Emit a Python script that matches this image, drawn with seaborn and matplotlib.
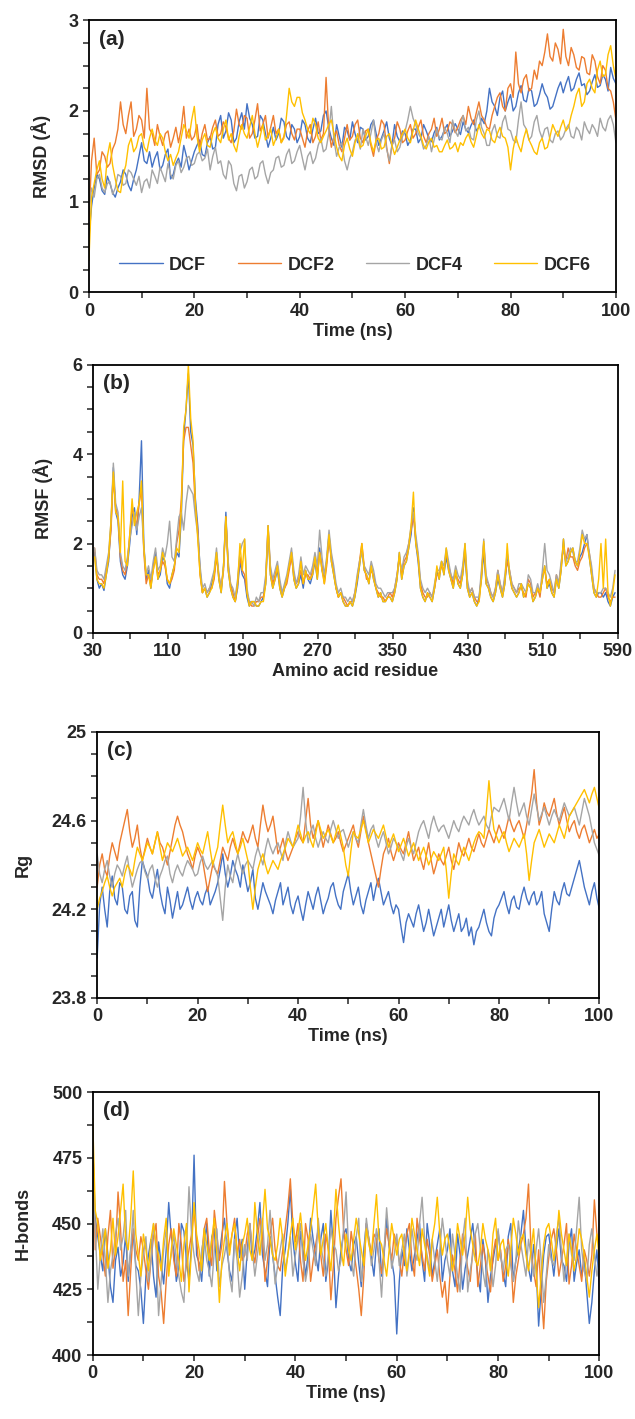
import numpy as np
import pandas as pd
import matplotlib
matplotlib.use('Agg')
import matplotlib.pyplot as plt
from matplotlib.ticker import FuncFormatter
import seaborn as sns

sns.set_style('white')
plt.rcParams['font.family'] = ['Liberation Sans', 'DejaVu Sans']
plt.rcParams['font.weight'] = 'bold'

systems = ['DCF', 'DCF2', 'DCF4', 'DCF6']
colors = ['#4472C4', '#ED7D31', '#A5A5A5', '#FFC000']

# time axis (ns, every 0.5 ns) and residue numbers (every 2.5 residues)
time_ns = np.arange(0, 100.5, 0.5)
residues = np.arange(32, 588, 2.5)

# --- (a) RMSD (Å) ---
rmsd_dcf = [0.60, 0.95, 1.15, 1.30, 1.25, 1.12, 1.08, 1.28, 1.20, 1.10, 1.05, 1.15, 1.22, 1.35, 1.30, 1.18, 1.12, 1.25, 1.35, 1.50,
            1.65, 1.45, 1.42, 1.55, 1.38, 1.48, 1.55, 1.35, 1.40, 1.52, 1.58, 1.25, 1.30, 1.42, 1.48, 1.38, 1.62, 1.50, 1.35, 1.45,
            1.55, 1.62, 1.68, 1.52, 1.50, 1.65, 1.72, 1.58, 1.60, 1.85, 1.95, 1.70, 1.78, 1.98, 1.90, 1.65, 1.70, 1.88, 1.98, 1.80,
            2.08, 1.92, 1.85, 1.70, 1.72, 1.95, 1.90, 1.75, 1.60, 1.70, 1.82, 1.68, 1.75, 1.92, 1.88, 1.72, 1.68, 1.85, 1.80, 1.65,
            1.72, 1.90, 1.85, 1.70, 1.65, 1.80, 1.92, 1.75, 1.78, 1.95, 2.00, 1.82, 1.70, 1.62, 1.85, 1.72, 1.60, 1.82, 1.78, 1.68,
            1.88, 1.75, 1.65, 1.82, 1.80, 1.68, 1.72, 1.85, 1.90, 1.75, 1.62, 1.70, 1.78, 1.88, 1.70, 1.62, 1.85, 1.72, 1.66, 1.78,
            1.75, 1.62, 1.68, 1.80, 1.80, 1.65, 1.70, 1.85, 1.78, 1.70, 1.66, 1.76, 1.82, 1.68, 1.72, 1.80, 1.85, 1.72, 1.78, 1.86,
            1.80, 1.74, 1.88, 1.80, 1.76, 1.84, 1.90, 1.78, 1.82, 1.92, 1.86, 2.00, 2.25, 2.10, 2.05, 1.95, 2.15, 2.22, 2.00, 2.10,
            2.18, 2.00, 2.05, 2.20, 2.28, 2.12, 2.10, 2.25, 2.22, 2.05, 2.08, 2.18, 2.30, 2.20, 2.15, 2.02, 2.05, 2.15, 2.25, 2.32,
            2.20, 2.30, 2.38, 2.22, 2.25, 2.35, 2.42, 2.28, 2.30, 2.18, 2.22, 2.32, 2.40, 2.26, 2.28, 2.40, 2.35, 2.22, 2.48, 2.36,
            2.30]
rmsd_dcf2 = [0.80, 1.45, 1.70, 1.30, 1.35, 1.55, 1.50, 1.38, 1.42, 1.58, 1.65, 1.80, 2.10, 1.85, 1.75, 1.95, 2.10, 1.72, 1.80, 1.95,
             1.90, 1.70, 2.25, 1.80, 1.75, 1.62, 1.85, 1.72, 1.62, 1.75, 1.78, 1.60, 1.70, 1.82, 1.65, 1.80, 2.05, 1.70, 1.80, 1.68,
             1.72, 1.85, 1.60, 1.75, 1.85, 1.68, 1.70, 1.82, 1.90, 1.72, 1.75, 1.88, 1.82, 1.70, 1.65, 1.78, 2.02, 1.85, 1.80, 1.95,
             1.92, 1.70, 1.75, 1.90, 2.08, 1.78, 1.85, 1.95, 1.70, 1.82, 1.95, 1.75, 1.80, 1.65, 1.72, 1.85, 1.88, 1.75, 1.68, 1.80,
             1.80, 1.70, 1.60, 1.78, 1.85, 1.65, 1.72, 1.88, 1.68, 1.75, 2.37, 1.80, 1.60, 1.72, 1.78, 1.62, 1.55, 1.70, 1.85, 1.68,
             1.72, 1.85, 1.90, 1.70, 1.65, 1.78, 1.80, 1.62, 1.50, 1.68, 1.75, 1.90, 1.85, 1.60, 1.42, 1.62, 1.70, 1.88, 1.80, 1.65,
             1.68, 1.78, 1.85, 1.70, 1.75, 1.82, 1.90, 1.72, 1.65, 1.75, 1.80, 1.92, 1.72, 1.80, 1.92, 1.75, 1.78, 1.88, 1.85, 1.76,
             1.82, 1.90, 1.95, 1.85, 2.05, 1.92, 1.85, 1.98, 2.10, 1.95, 1.90, 1.82, 1.80, 1.95, 2.05, 2.15, 2.20, 2.05, 2.00, 2.25,
             2.30, 2.15, 2.65, 2.30, 2.20, 2.35, 2.40, 2.22, 2.25, 2.45, 2.35, 2.55, 2.50, 2.65, 2.85, 2.60, 2.55, 2.75, 2.68, 2.52,
             2.90, 2.60, 2.50, 2.70, 2.62, 2.48, 2.45, 2.60, 2.58, 2.42, 2.40, 2.62, 2.55, 2.38, 2.30, 2.50, 2.45, 2.25, 2.22, 2.10,
             1.90]
rmsd_dcf4 = [0.90, 1.15, 1.05, 1.25, 1.30, 1.15, 1.10, 1.20, 1.22, 1.08, 1.15, 1.30, 1.28, 1.18, 1.20, 1.35, 1.32, 1.25, 1.18, 1.28,
             1.10, 1.22, 1.25, 1.15, 1.35, 1.28, 1.20, 1.38, 1.30, 1.22, 1.42, 1.30, 1.25, 1.40, 1.45, 1.32, 1.38, 1.48, 1.50, 1.40,
             1.42, 1.52, 1.55, 1.45, 1.48, 1.58, 1.35, 1.50, 1.60, 1.42, 1.45, 1.30, 1.25, 1.45, 1.40, 1.20, 1.12, 1.28, 1.30, 1.15,
             1.22, 1.35, 1.38, 1.25, 1.28, 1.42, 1.45, 1.30, 1.20, 1.32, 1.35, 1.48, 1.50, 1.38, 1.40, 1.52, 1.58, 1.42, 1.45, 1.55,
             1.62, 1.48, 1.35, 1.50, 1.55, 1.42, 1.48, 1.62, 1.70, 1.55, 1.58, 1.75, 2.05, 1.68, 1.50, 1.60, 1.65, 1.45, 1.35, 1.48,
             1.55, 1.68, 1.70, 1.58, 1.80, 1.72, 1.62, 1.75, 1.90, 1.65, 1.55, 1.68, 1.75, 1.58, 1.45, 1.62, 1.68, 1.55, 1.60, 1.72,
             1.78, 1.90, 2.05, 1.92, 1.85, 1.75, 1.70, 1.58, 1.62, 1.72, 1.55, 1.68, 1.80, 1.70, 1.68, 1.82, 1.75, 1.65, 1.90, 1.78,
             1.72, 1.85, 1.95, 1.78, 1.82, 1.70, 1.68, 1.90, 2.00, 1.82, 1.75, 1.62, 1.62, 1.78, 1.85, 1.72, 1.70, 1.88, 1.95, 1.80,
             1.78, 1.68, 1.65, 1.90, 2.10, 1.85, 1.80, 1.68, 1.72, 1.88, 1.95, 1.78, 1.70, 1.80, 1.82, 1.68, 1.65, 1.75, 1.78, 1.68,
             1.72, 1.80, 1.85, 1.72, 1.70, 1.82, 1.78, 1.68, 1.88, 1.80, 1.75, 1.85, 1.80, 1.72, 1.92, 1.82, 1.78, 1.90, 1.95, 1.85,
             1.65]
rmsd_dcf6 = [0.35, 1.05, 1.20, 1.35, 1.45, 1.25, 1.15, 1.50, 1.65, 1.40, 1.25, 1.12, 1.10, 1.30, 1.40, 1.62, 1.70, 1.55, 1.60, 1.72,
             1.75, 1.60, 1.55, 1.70, 1.80, 1.68, 1.62, 1.75, 1.70, 1.55, 1.45, 1.52, 1.40, 1.48, 1.55, 1.70, 1.85, 1.78, 1.70, 1.90,
             2.05, 1.72, 1.55, 1.68, 1.75, 1.62, 1.60, 1.75, 1.82, 1.70, 1.65, 1.80, 1.90, 1.68, 1.75, 1.62, 1.55, 1.72, 1.85, 1.75,
             1.70, 1.82, 1.95, 1.75, 1.60, 1.72, 1.85, 1.68, 1.72, 1.80, 1.62, 1.70, 1.80, 1.65, 1.70, 1.95, 2.25, 2.10, 2.05, 2.15,
             2.15, 1.98, 1.90, 1.80, 1.75, 1.92, 1.85, 1.70, 1.65, 1.72, 1.78, 1.85, 1.90, 1.75, 1.60, 1.50, 1.45, 1.62, 1.70, 1.58,
             1.50, 1.65, 1.75, 1.60, 1.62, 1.72, 1.80, 1.65, 1.55, 1.68, 1.70, 1.58, 1.60, 1.72, 1.75, 1.62, 1.52, 1.60, 1.68, 1.75,
             1.80, 1.70, 1.65, 1.78, 1.90, 1.80, 1.72, 1.62, 1.58, 1.66, 1.70, 1.60, 1.62, 1.55, 1.55, 1.62, 1.68, 1.58, 1.60, 1.65,
             1.55, 1.65, 1.62, 1.70, 1.75, 1.66, 1.60, 1.72, 1.85, 1.75, 1.70, 1.80, 1.78, 1.68, 1.65, 1.75, 1.82, 1.72, 1.70, 1.60,
             1.35, 1.58, 1.72, 1.62, 1.55, 1.70, 1.80, 1.68, 1.62, 1.55, 1.52, 1.65, 1.70, 1.58, 1.60, 1.72, 1.85, 1.78, 1.72, 1.82,
             1.90, 1.78, 1.82, 1.95, 2.05, 2.18, 2.25, 2.05, 2.10, 2.30, 2.35, 2.25, 2.20, 2.45, 2.55, 2.38, 2.40, 2.62, 2.72, 2.50,
             2.35]

# --- (b) RMSF (Å) ---
rmsf_dcf = [1.8, 1.2, 1.0, 1.1, 0.95, 1.3, 1.6, 2.4, 3.7, 2.7, 2.5, 1.6, 1.3, 1.2, 1.5, 2.0, 2.6, 2.8, 2.2, 3.0,
            4.3, 2.0, 1.2, 1.4, 1.0, 1.5, 1.8, 1.2, 1.3, 1.7, 1.6, 1.1, 1.0, 1.3, 1.5, 1.8, 1.7, 2.6, 4.4, 5.0,
            5.8, 4.5, 4.2, 3.0, 2.4, 1.4, 0.9, 1.0, 0.8, 0.9, 1.1, 1.3, 1.8, 1.2, 0.9, 1.5, 2.7, 1.4, 1.0, 0.8,
            0.7, 1.0, 1.6, 1.3, 1.2, 0.8, 0.6, 0.7, 0.7, 0.6, 0.6, 0.7, 0.8, 1.1, 2.3, 1.3, 1.0, 1.2, 1.4, 1.0,
            0.8, 1.0, 1.2, 1.5, 1.8, 1.2, 1.0, 1.1, 1.3, 1.0, 1.4, 1.2, 1.1, 1.3, 1.6, 1.2, 1.9, 1.4, 1.2, 1.6,
            2.2, 1.6, 1.3, 1.0, 0.8, 0.9, 0.7, 0.6, 0.6, 0.7, 0.6, 0.8, 1.1, 1.5, 1.9, 1.4, 1.3, 1.1, 1.5, 1.2,
            1.0, 0.8, 0.9, 0.7, 0.7, 0.8, 0.8, 0.7, 0.9, 1.2, 1.8, 1.2, 1.5, 1.6, 1.9, 2.2, 2.8, 2.0, 1.6, 1.0,
            0.8, 0.7, 0.9, 0.8, 0.7, 1.0, 1.4, 1.2, 1.6, 1.3, 1.7, 1.4, 1.2, 1.0, 1.4, 1.1, 1.0, 1.3, 1.8, 1.0,
            0.8, 0.9, 0.7, 0.6, 0.8, 1.2, 1.8, 1.1, 1.0, 0.8, 0.7, 0.9, 1.2, 1.0, 0.8, 1.1, 1.7, 1.3, 1.0, 0.9,
            0.8, 0.9, 1.1, 0.8, 0.9, 1.1, 1.0, 0.7, 0.8, 1.0, 0.9, 1.2, 1.5, 1.0, 1.1, 0.9, 0.8, 1.2, 1.0, 1.4,
            2.1, 1.5, 1.6, 1.8, 1.9, 1.6, 1.5, 1.7, 1.8, 2.0, 2.2, 1.7, 1.3, 0.9, 0.8, 0.9, 0.9, 0.8, 0.9, 0.7,
            0.6, 0.8, 0.9]
rmsf_dcf2 = [1.9, 1.3, 1.2, 1.2, 1.1, 1.4, 1.7, 2.3, 3.5, 2.8, 2.6, 1.7, 1.4, 1.3, 1.6, 2.2, 2.8, 2.6, 2.4, 2.9,
             3.2, 1.8, 1.1, 1.3, 1.1, 1.4, 1.7, 1.3, 1.4, 1.6, 1.5, 1.2, 1.1, 1.2, 1.4, 2.0, 2.3, 3.0, 4.3, 4.6,
             4.6, 4.2, 3.8, 2.8, 2.3, 1.3, 0.9, 1.0, 0.9, 1.0, 1.0, 1.2, 1.7, 1.3, 1.0, 1.4, 2.6, 1.5, 1.1, 0.9,
             0.7, 1.1, 1.7, 1.4, 1.3, 0.9, 0.7, 0.6, 0.6, 0.7, 0.7, 0.8, 0.8, 1.2, 2.4, 1.4, 1.1, 1.3, 1.5, 1.1,
             0.9, 1.0, 1.1, 1.4, 1.7, 1.3, 1.1, 1.2, 1.4, 1.1, 1.3, 1.3, 1.2, 1.4, 1.7, 1.3, 1.8, 1.5, 1.1, 1.5,
             2.1, 1.7, 1.4, 1.0, 0.8, 0.9, 0.8, 0.7, 0.6, 0.7, 0.7, 0.9, 1.2, 1.6, 2.0, 1.5, 1.2, 1.2, 1.4, 1.3,
             1.0, 0.9, 0.8, 0.8, 0.7, 0.8, 0.9, 0.8, 1.0, 1.3, 1.7, 1.3, 1.6, 1.7, 2.0, 2.3, 2.6, 2.1, 1.7, 1.1,
             0.9, 0.8, 0.8, 0.9, 0.8, 1.0, 1.3, 1.3, 1.5, 1.4, 1.8, 1.5, 1.3, 1.1, 1.3, 1.2, 1.1, 1.4, 1.9, 1.1,
             0.9, 1.0, 0.8, 0.7, 0.7, 1.3, 2.0, 1.2, 1.1, 0.9, 0.8, 1.0, 1.4, 1.1, 0.9, 1.2, 1.6, 1.4, 1.1, 1.0,
             0.9, 1.0, 1.0, 0.9, 0.8, 1.2, 1.1, 0.8, 0.9, 1.0, 0.8, 1.3, 1.4, 1.1, 1.2, 1.0, 0.9, 1.3, 1.1, 1.5,
             1.9, 1.6, 1.9, 1.7, 1.7, 1.5, 1.4, 1.6, 1.7, 1.9, 2.0, 1.8, 1.4, 1.0, 0.9, 0.8, 0.8, 0.9, 1.0, 0.8,
             0.7, 0.8, 0.8]
rmsf_dcf4 = [1.9, 1.4, 1.3, 1.3, 1.2, 1.5, 1.8, 2.5, 3.8, 2.9, 2.7, 1.8, 1.5, 1.4, 1.7, 2.1, 2.4, 2.7, 2.3, 2.6,
             2.8, 1.9, 1.3, 1.5, 1.2, 1.6, 1.9, 1.4, 1.5, 1.9, 1.7, 2.0, 2.5, 1.7, 1.6, 2.1, 2.6, 2.7, 2.3, 2.9,
             3.3, 3.2, 3.1, 2.6, 2.2, 1.5, 1.0, 1.1, 0.9, 1.0, 1.2, 1.4, 1.9, 1.3, 1.0, 1.5, 2.5, 1.6, 1.1, 1.0,
             0.8, 1.2, 1.8, 2.0, 2.1, 1.0, 0.7, 0.7, 0.6, 0.8, 0.7, 0.9, 0.9, 1.3, 2.4, 1.5, 1.2, 1.4, 1.6, 1.2,
             0.9, 1.1, 1.3, 1.6, 1.9, 1.4, 1.1, 1.3, 1.7, 1.3, 1.5, 1.4, 1.3, 1.5, 1.8, 1.5, 2.3, 1.7, 1.3, 1.7,
             2.3, 1.8, 1.5, 1.1, 0.9, 1.0, 0.8, 0.8, 0.7, 0.8, 0.7, 0.9, 1.3, 1.6, 1.8, 1.5, 1.4, 1.3, 1.6, 1.4,
             1.1, 1.0, 1.0, 0.9, 0.8, 0.9, 0.9, 0.9, 1.0, 1.3, 1.7, 1.4, 1.7, 1.8, 2.0, 2.4, 2.7, 2.2, 1.8, 1.2,
             1.0, 0.9, 1.0, 0.9, 0.8, 1.1, 1.4, 1.4, 1.6, 1.5, 1.9, 1.6, 1.3, 1.2, 1.5, 1.3, 1.2, 1.5, 2.0, 1.2,
             0.9, 1.0, 0.8, 0.8, 0.8, 1.4, 2.1, 1.3, 1.1, 0.9, 0.8, 1.0, 1.4, 1.1, 0.9, 1.3, 1.8, 1.4, 1.1, 1.0,
             0.9, 1.1, 1.1, 1.0, 0.9, 1.3, 1.2, 0.9, 0.9, 1.1, 0.9, 1.4, 2.0, 1.4, 1.3, 1.1, 0.9, 1.3, 1.1, 1.6,
             1.9, 1.6, 1.7, 1.9, 1.8, 1.6, 1.6, 1.9, 2.3, 2.1, 2.2, 1.8, 1.5, 1.0, 0.9, 0.9, 0.9, 1.0, 1.0, 0.9,
             0.8, 1.0, 1.4]
rmsf_dcf6 = [1.7, 1.2, 1.1, 1.1, 1.0, 1.3, 1.7, 2.5, 3.6, 2.7, 2.6, 1.8, 3.4, 1.6, 1.5, 2.2, 3.0, 2.4, 2.7, 2.9,
             3.4, 1.9, 1.3, 1.3, 1.0, 1.4, 1.7, 1.2, 1.4, 1.8, 1.6, 1.2, 1.1, 1.3, 1.5, 1.9, 1.8, 2.8, 4.6, 5.0,
             6.0, 4.8, 4.3, 2.9, 2.1, 1.3, 0.9, 1.0, 0.8, 0.9, 1.0, 1.3, 1.8, 1.2, 0.9, 1.5, 2.6, 1.4, 1.0, 0.8,
             0.7, 1.1, 2.0, 1.4, 2.1, 0.9, 0.6, 0.7, 0.7, 0.6, 0.6, 0.7, 0.7, 1.1, 2.4, 1.3, 1.0, 1.2, 1.5, 1.0,
             0.8, 1.0, 1.2, 1.5, 1.8, 1.2, 1.0, 1.1, 1.6, 1.1, 1.4, 1.2, 1.2, 1.3, 1.7, 1.2, 1.8, 1.4, 1.1, 1.6,
             2.2, 1.6, 1.3, 1.0, 0.8, 0.9, 0.7, 0.6, 0.6, 0.7, 0.6, 0.8, 1.2, 1.5, 2.0, 1.4, 1.3, 1.1, 1.5, 1.2,
             1.0, 0.8, 0.9, 0.7, 0.7, 0.8, 0.8, 0.7, 0.9, 1.2, 1.8, 1.2, 1.5, 1.6, 1.9, 2.4, 3.15, 2.0, 1.7, 1.0,
             0.8, 0.7, 0.9, 0.8, 0.7, 1.0, 1.5, 1.2, 1.6, 1.3, 1.9, 1.4, 1.2, 1.0, 1.4, 1.1, 1.0, 1.3, 2.0, 1.0,
             0.8, 0.9, 0.7, 0.6, 0.7, 1.2, 2.05, 1.1, 1.0, 0.8, 0.7, 0.9, 1.3, 1.0, 0.8, 1.1, 2.0, 1.3, 1.0, 0.9,
             0.8, 0.9, 1.1, 0.8, 0.9, 1.1, 1.0, 0.7, 0.8, 1.0, 0.9, 1.2, 1.5, 1.0, 1.2, 0.9, 0.8, 1.2, 1.0, 1.4,
             2.1, 1.5, 1.6, 1.8, 1.9, 1.6, 1.5, 1.8, 2.2, 2.0, 2.0, 1.7, 1.3, 0.9, 0.8, 1.2, 2.0, 1.0, 2.1, 0.9,
             0.6, 0.9, 1.3]

# --- (c) Rg ---
rg_dcf = [23.98, 24.22, 24.30, 24.20, 24.12, 24.28, 24.35, 24.25, 24.22, 24.32, 24.30, 24.20, 24.18, 24.26, 24.28, 24.15, 24.12, 24.30, 24.42, 24.38,
          24.35, 24.28, 24.25, 24.32, 24.38, 24.28, 24.22, 24.18, 24.30, 24.24, 24.16, 24.22, 24.28, 24.20, 24.22, 24.26, 24.30, 24.24, 24.20, 24.25,
          24.28, 24.24, 24.22, 24.27, 24.30, 24.22, 24.25, 24.28, 24.32, 24.38, 24.45, 24.36, 24.30, 24.35, 24.42, 24.38, 24.35, 24.30, 24.40, 24.34,
          24.28, 24.32, 24.38, 24.25, 24.20, 24.26, 24.32, 24.28, 24.25, 24.22, 24.18, 24.24, 24.28, 24.32, 24.22, 24.26, 24.30, 24.22, 24.18, 24.23,
          24.26, 24.20, 24.15, 24.22, 24.28, 24.24, 24.20, 24.26, 24.30, 24.24, 24.18, 24.22, 24.25, 24.30, 24.32, 24.26, 24.22, 24.20, 24.28, 24.32,
          24.36, 24.28, 24.22, 24.26, 24.30, 24.22, 24.18, 24.24, 24.28, 24.32, 24.24, 24.30, 24.34, 24.28, 24.22, 24.25, 24.28, 24.22, 24.18, 24.22,
          24.20, 24.12, 24.05, 24.14, 24.18, 24.15, 24.12, 24.18, 24.22, 24.16, 24.10, 24.14, 24.20, 24.14, 24.08, 24.12, 24.16, 24.20, 24.12, 24.17,
          24.22, 24.15, 24.10, 24.14, 24.18, 24.10, 24.12, 24.16, 24.08, 24.12, 24.04, 24.10, 24.12, 24.16, 24.20, 24.14, 24.10, 24.08, 24.16, 24.20,
          24.22, 24.25, 24.28, 24.22, 24.18, 24.24, 24.26, 24.21, 24.20, 24.26, 24.30, 24.25, 24.22, 24.26, 24.28, 24.22, 24.24, 24.28, 24.18, 24.14,
          24.10, 24.20, 24.28, 24.24, 24.22, 24.28, 24.32, 24.27, 24.26, 24.30, 24.34, 24.38, 24.42, 24.36, 24.30, 24.26, 24.22, 24.28, 24.32, 24.25,
          24.20]
rg_dcf2 = [24.30, 24.40, 24.45, 24.38, 24.35, 24.44, 24.50, 24.46, 24.42, 24.50, 24.55, 24.60, 24.65, 24.55, 24.48, 24.52, 24.58, 24.48, 24.42, 24.47,
           24.52, 24.48, 24.45, 24.50, 24.55, 24.50, 24.48, 24.44, 24.40, 24.46, 24.52, 24.58, 24.62, 24.58, 24.55, 24.50, 24.45, 24.42, 24.38, 24.44,
           24.48, 24.45, 24.42, 24.35, 24.28, 24.34, 24.40, 24.38, 24.36, 24.42, 24.48, 24.45, 24.42, 24.48, 24.52, 24.48, 24.45, 24.50, 24.55, 24.52,
           24.50, 24.54, 24.58, 24.52, 24.48, 24.58, 24.67, 24.60, 24.55, 24.58, 24.62, 24.54, 24.45, 24.48, 24.52, 24.46, 24.42, 24.45, 24.48, 24.52,
           24.55, 24.52, 24.50, 24.60, 24.70, 24.58, 24.52, 24.56, 24.60, 24.54, 24.48, 24.53, 24.58, 24.54, 24.50, 24.52, 24.55, 24.50, 24.46, 24.49,
           24.52, 24.55, 24.58, 24.52, 24.48, 24.55, 24.62, 24.56, 24.50, 24.45, 24.40, 24.35, 24.30, 24.38, 24.45, 24.48, 24.52, 24.46, 24.42, 24.46,
           24.50, 24.47, 24.45, 24.50, 24.55, 24.48, 24.42, 24.45, 24.48, 24.42, 24.38, 24.44, 24.50, 24.42, 24.36, 24.40, 24.45, 24.42, 24.40, 24.44,
           24.48, 24.42, 24.38, 24.44, 24.50, 24.46, 24.44, 24.48, 24.52, 24.48, 24.46, 24.50, 24.54, 24.50, 24.48, 24.52, 24.56, 24.53, 24.50, 24.54,
           24.58, 24.55, 24.52, 24.57, 24.62, 24.58, 24.55, 24.58, 24.60, 24.56, 24.52, 24.58, 24.65, 24.72, 24.83, 24.68, 24.58, 24.62, 24.68, 24.64,
           24.62, 24.66, 24.70, 24.63, 24.58, 24.62, 24.66, 24.60, 24.55, 24.58, 24.60, 24.55, 24.52, 24.56, 24.58, 24.54, 24.50, 24.53, 24.56, 24.52,
           24.54]
rg_dcf4 = [24.45, 24.36, 24.32, 24.38, 24.42, 24.35, 24.30, 24.36, 24.40, 24.38, 24.35, 24.40, 24.44, 24.36, 24.30, 24.34, 24.38, 24.41, 24.42, 24.37,
           24.34, 24.38, 24.40, 24.34, 24.30, 24.35, 24.38, 24.42, 24.44, 24.36, 24.32, 24.37, 24.40, 24.37, 24.35, 24.39, 24.42, 24.40, 24.38, 24.35,
           24.36, 24.41, 24.44, 24.40, 24.38, 24.40, 24.42, 24.38, 24.35, 24.25, 24.15, 24.30, 24.40, 24.35, 24.32, 24.40, 24.45, 24.40, 24.36, 24.40,
           24.42, 24.40, 24.38, 24.44, 24.48, 24.44, 24.40, 24.47, 24.52, 24.48, 24.45, 24.48, 24.50, 24.46, 24.42, 24.50, 24.55, 24.51, 24.48, 24.50,
           24.52, 24.62, 24.75, 24.60, 24.50, 24.55, 24.58, 24.52, 24.48, 24.52, 24.55, 24.52, 24.50, 24.56, 24.60, 24.56, 24.52, 24.55, 24.56, 24.52,
           24.48, 24.52, 24.55, 24.52, 24.50, 24.58, 24.65, 24.58, 24.52, 24.56, 24.58, 24.52, 24.48, 24.52, 24.55, 24.50, 24.45, 24.48, 24.52, 24.50,
           24.48, 24.45, 24.42, 24.48, 24.52, 24.48, 24.45, 24.50, 24.55, 24.58, 24.60, 24.56, 24.52, 24.58, 24.62, 24.58, 24.55, 24.57, 24.58, 24.55,
           24.52, 24.56, 24.60, 24.57, 24.55, 24.59, 24.62, 24.60, 24.58, 24.62, 24.65, 24.61, 24.58, 24.60, 24.62, 24.58, 24.56, 24.62, 24.66, 24.65,
           24.64, 24.67, 24.70, 24.65, 24.60, 24.68, 24.75, 24.68, 24.62, 24.65, 24.68, 24.62, 24.58, 24.65, 24.72, 24.66, 24.60, 24.63, 24.66, 24.62,
           24.58, 24.62, 24.65, 24.62, 24.60, 24.64, 24.68, 24.65, 24.62, 24.64, 24.66, 24.62, 24.58, 24.64, 24.70, 24.66, 24.62, 24.56, 24.50, 24.47,
           24.44]
rg_dcf6 = [24.20, 24.25, 24.28, 24.32, 24.35, 24.30, 24.26, 24.30, 24.32, 24.34, 24.30, 24.36, 24.40, 24.38, 24.35, 24.42, 24.48, 24.45, 24.42, 24.46,
           24.50, 24.48, 24.45, 24.50, 24.55, 24.48, 24.42, 24.46, 24.50, 24.48, 24.46, 24.49, 24.52, 24.48, 24.44, 24.46, 24.48, 24.45, 24.42, 24.46,
           24.50, 24.47, 24.45, 24.50, 24.55, 24.47, 24.40, 24.44, 24.48, 24.58, 24.67, 24.58, 24.50, 24.53, 24.55, 24.50, 24.45, 24.48, 24.52, 24.47,
           24.42, 24.30, 24.20, 24.30, 24.38, 24.42, 24.45, 24.40, 24.36, 24.39, 24.42, 24.40, 24.38, 24.42, 24.45, 24.48, 24.52, 24.50, 24.48, 24.53,
           24.58, 24.54, 24.50, 24.53, 24.55, 24.51, 24.48, 24.54, 24.60, 24.56, 24.52, 24.54, 24.56, 24.53, 24.50, 24.54, 24.58, 24.53, 24.48, 24.40,
           24.35, 24.46, 24.55, 24.53, 24.52, 24.56, 24.60, 24.55, 24.50, 24.53, 24.56, 24.54, 24.52, 24.55, 24.58, 24.53, 24.48, 24.51, 24.54, 24.50,
           24.46, 24.49, 24.52, 24.48, 24.44, 24.47, 24.50, 24.46, 24.42, 24.45, 24.48, 24.44, 24.40, 24.43, 24.46, 24.44, 24.42, 24.45, 24.48, 24.38,
           24.25, 24.36, 24.45, 24.42, 24.40, 24.44, 24.48, 24.45, 24.42, 24.46, 24.50, 24.53, 24.55, 24.54, 24.52, 24.64, 24.78, 24.65, 24.56, 24.53,
           24.50, 24.53, 24.55, 24.50, 24.46, 24.49, 24.52, 24.50, 24.48, 24.51, 24.54, 24.45, 24.33, 24.42, 24.50, 24.53, 24.56, 24.52, 24.48, 24.51,
           24.54, 24.52, 24.50, 24.54, 24.58, 24.55, 24.52, 24.57, 24.62, 24.64, 24.66, 24.68, 24.70, 24.72, 24.74, 24.71, 24.68, 24.72, 24.75, 24.70,
           24.65]

# --- (d) H-bonds ---
hb_dcf = [480, 452, 445, 438, 432, 448, 438, 426, 420, 436, 441, 430, 435, 446, 428, 440, 446, 434, 432, 425,
          412, 430, 438, 444, 430, 422, 443, 435, 427, 440, 458, 445, 440, 428, 433, 450, 447, 436, 428, 442,
          476, 438, 435, 428, 442, 450, 430, 445, 448, 432, 438, 446, 452, 440, 432, 428, 445, 452, 437, 444,
          425, 440, 450, 436, 440, 448, 458, 438, 432, 426, 445, 438, 430, 422, 415, 434, 440, 450, 463, 444,
          435, 428, 447, 440, 430, 438, 452, 444, 438, 432, 444, 450, 428, 436, 455, 440, 418, 430, 440, 446,
          448, 436, 432, 442, 445, 435, 426, 440, 450, 444, 437, 430, 443, 448, 430, 438, 452, 441, 436, 430,
          408, 428, 440, 434, 448, 440, 432, 438, 444, 450, 436, 428, 450, 442, 430, 436, 442, 448, 428, 436,
          440, 448, 432, 426, 446, 438, 425, 433, 438, 444, 450, 440, 430, 424, 444, 436, 420, 430, 436, 442,
          447, 438, 431, 426, 445, 450, 428, 436, 440, 446, 455, 440, 433, 428, 442, 434, 411, 425, 438, 445,
          446, 438, 430, 440, 448, 436, 434, 428, 442, 448, 428, 435, 440, 430, 436, 424, 412, 420, 432, 440,
          425]
hb_dcf2 = [485, 440, 452, 445, 438, 430, 445, 455, 433, 440, 462, 448, 428, 436, 415, 432, 448, 440, 436, 445,
           440, 432, 425, 436, 445, 450, 430, 424, 412, 428, 442, 448, 436, 430, 450, 442, 428, 434, 440, 446,
           455, 444, 432, 438, 448, 452, 440, 434, 455, 446, 436, 442, 466, 450, 440, 446, 452, 438, 444, 436,
           438, 446, 450, 440, 435, 444, 452, 446, 428, 436, 446, 452, 440, 434, 432, 440, 448, 456, 467, 450,
           443, 450, 436, 428, 450, 444, 428, 436, 442, 448, 438, 430, 446, 440, 421, 434, 452, 460, 467, 448,
           440, 434, 447, 440, 433, 425, 415, 430, 450, 444, 438, 446, 444, 436, 431, 440, 448, 442, 436, 446,
           442, 436, 430, 440, 446, 450, 436, 430, 452, 444, 438, 432, 444, 438, 428, 434, 440, 430, 422, 428,
           416, 430, 438, 432, 424, 436, 446, 440, 433, 428, 440, 446, 426, 434, 442, 436, 430, 424, 438, 444,
           436, 440, 428, 434, 444, 438, 420, 430, 436, 442, 446, 452, 465, 440, 432, 426, 440, 424, 410, 428,
           437, 444, 448, 440, 430, 436, 442, 450, 427, 434, 446, 440, 434, 428, 440, 436, 430, 438, 459, 446,
           442]
hb_dcf4 = [470, 448, 425, 438, 448, 436, 420, 432, 438, 446, 452, 440, 445, 455, 430, 440, 455, 432, 415, 430,
           438, 445, 428, 436, 450, 440, 415, 428, 440, 448, 432, 438, 446, 436, 430, 424, 420, 440, 464, 446,
           438, 432, 428, 440, 445, 436, 432, 426, 440, 448, 426, 434, 438, 444, 430, 424, 444, 436, 422, 430,
           442, 436, 450, 440, 430, 438, 446, 452, 436, 442, 455, 440, 427, 434, 440, 446, 432, 438, 445, 430,
           438, 444, 450, 436, 428, 434, 446, 440, 434, 452, 442, 436, 430, 438, 448, 442, 440, 432, 436, 448,
           462, 440, 436, 430, 445, 452, 428, 436, 452, 444, 434, 440, 448, 436, 422, 440, 456, 444, 433, 438,
           446, 434, 440, 446, 430, 438, 448, 440, 436, 450, 460, 444, 438, 432, 444, 436, 428, 440, 452, 444,
           436, 430, 446, 438, 430, 424, 444, 452, 424, 432, 438, 446, 450, 440, 432, 426, 440, 436, 426, 434,
           448, 438, 432, 440, 442, 434, 428, 436, 451, 442, 436, 430, 444, 438, 430, 440, 448, 436, 420, 430,
           442, 436, 434, 446, 452, 440, 428, 436, 446, 438, 436, 448, 460, 440, 432, 428, 442, 448, 438, 430,
           435]
hb_dcf6 = [490, 455, 450, 436, 442, 448, 433, 440, 452, 438, 445, 455, 465, 444, 440, 452, 470, 446, 438, 430,
           446, 440, 432, 444, 450, 442, 438, 432, 444, 452, 430, 440, 448, 442, 436, 428, 442, 450, 424, 440,
           458, 446, 440, 432, 448, 442, 436, 444, 452, 438, 420, 436, 444, 450, 438, 446, 450, 440, 432, 442,
           446, 452, 440, 436, 458, 446, 438, 450, 463, 448, 444, 438, 436, 442, 452, 444, 430, 438, 446, 452,
           440, 446, 454, 444, 436, 442, 448, 456, 465, 448, 438, 444, 450, 440, 432, 446, 463, 450, 440, 434,
           446, 440, 436, 444, 452, 446, 440, 434, 448, 442, 438, 450, 461, 444, 442, 436, 430, 440, 450, 444,
           438, 444, 446, 438, 432, 440, 452, 446, 440, 434, 448, 442, 436, 430, 444, 450, 460, 446, 438, 444,
           446, 440, 432, 438, 450, 444, 438, 446, 460, 448, 442, 436, 434, 440, 450, 444, 440, 432, 446, 452,
           436, 442, 444, 436, 430, 440, 452, 446, 438, 444, 446, 438, 432, 440, 448, 432, 418, 430, 442, 448,
           450, 444, 436, 442, 455, 446, 440, 434, 446, 440, 432, 438, 448, 444, 438, 430, 422, 432, 440, 446,
           436]


def long_df(x, series):
    parts = [pd.DataFrame({'x': x, 'y': vals, 'sys': name})
             for name, vals in zip(systems, series)]
    return pd.concat(parts, ignore_index=True)


panels = [
    dict(df=long_df(time_ns, [rmsd_dcf, rmsd_dcf2, rmsd_dcf4, rmsd_dcf6]),
         rect=[0.140, 0.794, 0.830, 0.1917], xlim=(0, 100),
         xticks=np.arange(0, 101, 20), xminor=np.arange(10, 100, 20),
         ylim=(0, 3), yticks=np.arange(0, 3.01, 1), yminor=np.arange(0, 3.01, 0.25),
         xlabel='Time (ns)', ylabel='RMSD (Å)', tag='(a)', ylx=-0.072),
    dict(df=long_df(residues, [rmsf_dcf, rmsf_dcf2, rmsf_dcf4, rmsf_dcf6]),
         rect=[0.146, 0.554, 0.827, 0.1889], xlim=(30, 590),
         xticks=np.arange(30, 591, 80), xminor=np.arange(70, 590, 80),
         ylim=(0, 6), yticks=np.arange(0, 6.01, 2), yminor=np.arange(0, 6.01, 0.5),
         xlabel='Amino acid residue', ylabel='RMSF (Å)', tag='(b)', ylx=-0.076),
    dict(df=long_df(time_ns, [rg_dcf, rg_dcf2, rg_dcf4, rg_dcf6]),
         rect=[0.153, 0.2967, 0.791, 0.1875], xlim=(0, 100),
         xticks=np.arange(0, 101, 20), xminor=np.arange(10, 100, 20),
         ylim=(23.8, 25), yticks=[23.8, 24.2, 24.6, 25.0], yminor=np.arange(23.8, 25.01, 0.1),
         xlabel='Time (ns)', ylabel='Rg', tag='(c)', ylx=-0.13),
    dict(df=long_df(time_ns, [hb_dcf, hb_dcf2, hb_dcf4, hb_dcf6]),
         rect=[0.146, 0.0451, 0.798, 0.1853], xlim=(0, 100),
         xticks=np.arange(0, 101, 20), xminor=np.arange(10, 100, 20),
         ylim=(400, 500), yticks=np.arange(400, 501, 25), yminor=np.arange(400, 501, 12.5),
         xlabel='Time (ns)', ylabel='H-bonds', tag='(d)', ylx=-0.12),
]

fig = plt.figure(figsize=(6.35, 14.19), dpi=100)
fmt = FuncFormatter(lambda v, p: f'{round(v, 2):g}')

for i, p in enumerate(panels):
    ax = fig.add_axes(p['rect'])
    sns.lineplot(data=p['df'], x='x', y='y', hue='sys', palette=colors,
                 estimator=None, lw=1.0, ax=ax, legend=(i == 0))
    ax.set_xlim(*p['xlim'])
    ax.set_ylim(*p['ylim'])
    ax.set_xticks(p['xticks'])
    ax.set_xticks(p['xminor'], minor=True)
    ax.set_yticks(p['yticks'])
    ax.set_yticks(p['yminor'], minor=True)
    ax.yaxis.set_major_formatter(fmt)
    ax.xaxis.set_major_formatter(fmt)
    ax.tick_params(which='both', direction='out', length=4.5, width=1.1,
                   labelsize=13, pad=3, bottom=True, left=True)
    for lab in ax.get_xticklabels() + ax.get_yticklabels():
        lab.set_fontweight('bold')
    for s in ax.spines.values():
        s.set_linewidth(1.3)
        s.set_color('black')
    ax.set_xlabel(p['xlabel'], fontsize=13, fontweight='bold', labelpad=2)
    ax.set_ylabel(p['ylabel'], fontsize=13, fontweight='bold')
    ax.yaxis.set_label_coords(p['ylx'], 0.5)
    ax.text(0.02, 0.965, p['tag'], transform=ax.transAxes, fontsize=15,
            fontweight='bold', va='top', ha='left')
    if i == 0:
        h, l = ax.get_legend_handles_labels()
        ax.legend(h, l, loc='center', bbox_to_anchor=(0.505, 0.10), ncol=4,
                  frameon=False, handlelength=2.4, handletextpad=0.35,
                  columnspacing=1.75, prop={'size': 13, 'weight': 'bold'})

fig.savefig('out.png', dpi=100)
